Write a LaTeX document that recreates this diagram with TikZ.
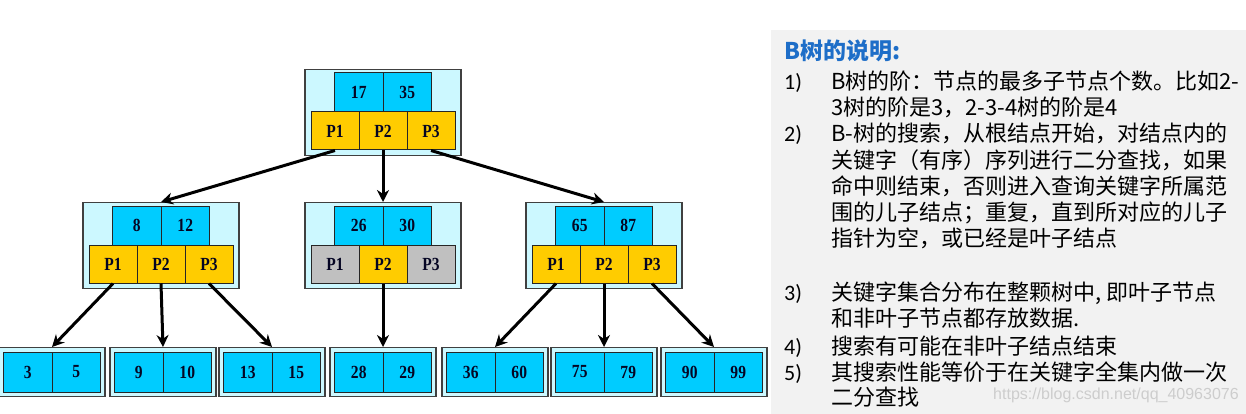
\documentclass[tikz,border=0pt]{standalone}
\usepackage{fontspec}
\setmainfont{Liberation Serif}
\newfontfamily\cjk{Noto Sans CJK SC}
\newfontfamily\lab{Carlito}
\newfontfamily\treefont{Liberation Serif}[FakeStretch=0.84]
\newfontfamily\wmfont{Liberation Sans}
\usetikzlibrary{arrows.meta,calc}
\definecolor{outerfill}{RGB}{204,248,255}
\definecolor{keyfill}{RGB}{0,204,255}
\definecolor{ptrfill}{RGB}{255,204,0}
\definecolor{nullfill}{RGB}{192,192,192}
\definecolor{txt}{RGB}{5,5,35}
\definecolor{panel}{RGB}{242,242,242}
\definecolor{titleblue}{RGB}{30,110,200}
\definecolor{wm}{RGB}{205,205,205}
\tikzset{
 outerbox/.style={draw=black!75, line width=1.3pt, fill=outerfill, inner sep=0pt},
 cell/.style={draw=black!85, line width=1pt, inner sep=0pt, minimum width=48.5pt, font=\treefont\bfseries\fontsize{18.5}{18.5}\selectfont, text=txt},
 keycell/.style={cell, fill=keyfill, minimum height=39pt},
 pcell/.style={cell, fill=ptrfill, minimum height=38pt, minimum width=48pt},
 ncell/.style={cell, fill=nullfill, minimum height=38pt, minimum width=48pt},
 leafcell/.style={cell, fill=keyfill, minimum height=40pt},
 link/.style={line width=3pt, -{Stealth[length=12pt,width=12pt]}, black},
 paneltext/.style={anchor=base west, inner sep=0pt, font=\cjk\fontsize{22}{26}\selectfont, text=black},
 panellabel/.style={anchor=base west, inner sep=0pt, font=\lab\fontsize{22}{26}\selectfont, text=black},
}
\newcommand{\treenode}[8]{%
 \node[outerbox, minimum width=156pt, minimum height=86pt, anchor=north] (#1) at (#2,#3) {};
 \node[keycell] (#1-k1) at ({#2-24.25},{#3+23.5}) {#4};
 \node[keycell] (#1-k2) at ({#2+24.25},{#3+23.5}) {#5};
 \node[#6] (#1-p1) at ({#2-48},{#3+62}) {P1};
 \node[#7] (#1-p2) at ({#2},{#3+62}) {P2};
 \node[#8] (#1-p3) at ({#2+48},{#3+62}) {P3};
}
\newcommand{\leafnode}[4]{%
 \node[outerbox, minimum width=106pt, minimum height=49pt, anchor=north] (#1) at (#2,347) {};
 \node[leafcell] (#1-a) at ({#2-24.25},372) {#3};
 \node[leafcell] (#1-b) at ({#2+24.25},372) {#4};
}
\begin{document}
\begin{tikzpicture}[x=1pt,y=-1pt]
\useasboundingbox (0,0) rectangle (1246,414);
\fill[panel] (771,30) rectangle (1246,414);
% tree
\treenode{root}{383}{69}{17}{35}{pcell}{pcell}{pcell}
\treenode{L}{161}{202}{8}{12}{pcell}{pcell}{pcell}
\treenode{M}{383}{202}{26}{30}{ncell}{pcell}{ncell}
\treenode{R}{604}{202}{65}{87}{pcell}{pcell}{pcell}
\leafnode{l1}{52}{3}{5}
\leafnode{l2}{163}{9}{10}
\leafnode{l3}{272}{13}{15}
\leafnode{l4}{383}{28}{29}
\leafnode{l5}{495}{36}{60}
\leafnode{l6}{604}{75}{79}
\leafnode{l7}{714}{90}{99}
\draw[link] (root-p1.south) -- (L.north);
\draw[link] (root-p2.south) -- (M.north);
\draw[link] (root-p3.south) -- (R.north);
\draw[link] (L-p1.south) -- (l1.north);
\draw[link] (L-p2.south) -- (l2.north);
\draw[link] (L-p3.south) -- (l3.north);
\draw[link] (M-p2.south) -- (l4.north);
\draw[link] (R-p1.south) -- (l5.north);
\draw[link] (R-p2.south) -- (l6.north);
\draw[link] (R-p3.south) -- (l7.north);
% panel
\node[anchor=base west, inner sep=0pt, font=\cjk\bfseries\fontsize{23}{23}\selectfont, text=titleblue] (title) at (784,60) {B树的说明:};
\node[panellabel] (n1) at (784,90) {1)};
\node[paneltext] (t1a) at (831,90) {B树的阶：节点的最多子节点个数。比如2-};
\node[paneltext] (t1b) at (831,116) {3树的阶是3，2-3-4树的阶是4};
\node[panellabel] (n2) at (784,142) {2)};
\node[paneltext] (t2a) at (831,142) {B-树的搜索，从根结点开始，对结点内的};
\node[paneltext] (t2b) at (831,168) {关键字（有序）序列进行二分查找，如果};
\node[paneltext] (t2c) at (831,194) {命中则结束，否则进入查询关键字所属范};
\node[paneltext] (t2d) at (831,220) {围的儿子结点；重复，直到所对应的儿子};
\node[paneltext] (t2e) at (831,246) {指针为空，或已经是叶子结点};
\node[panellabel] (n3) at (784,300) {3)};
\node[paneltext] (t3a) at (831,300) {关键字集合分布在整颗树中, 即叶子节点};
\node[paneltext] (t3b) at (831,326) {和非叶子节点都存放数据.};
\node[panellabel] (n4) at (784,354) {4)};
\node[paneltext] (t4a) at (831,354) {搜索有可能在非叶子结点结束};
\node[panellabel] (n5) at (784,380) {5)};
\node[paneltext] (t5a) at (831,380) {其搜索性能等价于在关键字全集内做一次};
\node[paneltext] (t5b) at (831,405) {二分查找};
\node[anchor=west, inner sep=0pt, font=\wmfont\fontsize{16}{16}\selectfont, text=wm] (wmk) at (993,395) {https://blog.csdn.net/qq\_40963076};
\end{tikzpicture}
\end{document}
